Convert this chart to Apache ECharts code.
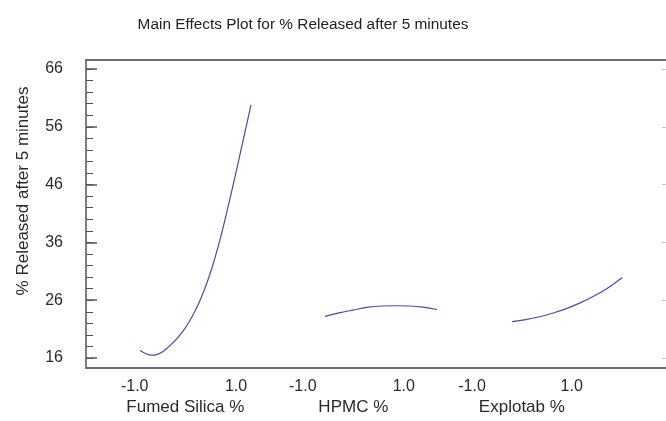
<!DOCTYPE html>
<html>
<head>
<meta charset="utf-8">
<script src="https://cdn.jsdelivr.net/npm/echarts@6/dist/echarts.min.js"></script>
<style>
html,body{margin:0;padding:0;background:#fff;}
#chart{width:666px;height:421px;}
</style>
</head>
<body>
<div id="chart"></div>
<script>
// ---- data ----
var titleText = 'Main Effects Plot for % Released after 5 minutes';
var yAxisName = '% Released after 5 minutes';
var factorNames = ['Fumed Silica %', 'HPMC %', 'Explotab %'];
var xTickValues = [-1, 1];
var yMajorTicks = [16, 26, 36, 46, 56, 66];
var yMinorTicks = [16, 18, 20, 22, 24, 26, 28, 30, 32, 34, 36, 38, 40, 42, 44, 46, 48, 50, 52, 54, 56, 58, 60, 62, 64, 66];

var fumedLevels = [-1, -0.9, -0.8, -0.7, -0.6, -0.5, -0.4, -0.3, -0.2, -0.1, 0, 0.1, 0.2, 0.3, 0.4, 0.5, 0.6, 0.7, 0.8, 0.9, 1];
var fumedValues = [17.3, 16.8, 16.5, 16.6, 17.05, 17.8, 18.7, 19.75, 21.0, 22.5, 24.3, 26.4, 28.85, 31.7, 35.0, 38.7, 42.7, 46.85, 51.15, 55.45, 59.8];

var hpmcLevels = [-1, -0.75, -0.5, -0.25, 0, 0.25, 0.5, 0.75, 1];
var hpmcValues = [23.2, 23.8, 24.3, 24.75, 25.0, 25.05, 25.0, 24.8, 24.4];

var explotabLevels = [-1, -0.75, -0.5, -0.25, 0, 0.25, 0.5, 0.75, 1];
var explotabValues = [22.3, 22.65, 23.15, 23.8, 24.6, 25.58, 26.76, 28.18, 29.9];

// ---- layout ----
var yMin = 14.28, yMax = 67.55;
var plotTop = 60, plotBottom = 53;
// pixel extents of each panel's curve (-1 .. 1)
var dataPanels = [[140, 251], [325, 437], [512, 622]];
// pixel positions of each panel's tick labels (-1.0 .. 1.0)
var labelPanels = [[134.7, 236], [302.8, 403.8], [472, 571.7]];
var W = 666;
var lineColor = '#4a4aae';
var font = 'Liberation Sans, Arial, sans-serif';

function zip(a, b) { return a.map(function (v, i) { return [v, b[i]]; }); }
var seriesData = [zip(fumedLevels, fumedValues), zip(hpmcLevels, hpmcValues), zip(explotabLevels, explotabValues)];

var grids = [], xAxes = [], yAxes = [], series = [];

// frame grid (index 0)
grids.push({ left: 86, right: 0, top: plotTop, bottom: plotBottom });
xAxes.push({ gridIndex: 0, type: 'value', min: 0, max: 1, position: 'bottom',
  axisLine: { show: true, lineStyle: { color: '#6e6e6e', width: 2 } },
  axisTick: { show: false }, axisLabel: { show: false }, splitLine: { show: false } });
xAxes.push({ gridIndex: 0, type: 'value', min: 0, max: 1, position: 'top',
  axisLine: { show: true, lineStyle: { color: '#6e6e6e', width: 2 } },
  axisTick: { show: false }, axisLabel: { show: false }, splitLine: { show: false } });
yAxes.push({
  gridIndex: 0, type: 'value', min: yMin, max: yMax, position: 'left',
  name: yAxisName, nameLocation: 'middle', nameGap: 54, nameRotate: 90,
  nameTextStyle: { fontFamily: font, fontSize: 17, color: '#2a2a2a', padding: [0, 0, 0, 46] },
  axisLine: { show: true, lineStyle: { color: '#555', width: 1.5 } },
  axisTick: { show: true, inside: true, length: 11, customValues: yMajorTicks, lineStyle: { color: '#555', width: 1.5 } },
  axisLabel: { show: true, margin: 23, customValues: yMajorTicks, fontFamily: font, fontSize: 16, color: '#2a2a2a' },
  splitLine: { show: false }
});
yAxes.push({
  gridIndex: 0, type: 'value', min: yMin, max: yMax, position: 'left', offset: 0,
  axisLine: { show: false },
  axisTick: { show: true, inside: true, length: 7, customValues: yMinorTicks, lineStyle: { color: '#555', width: 1 } },
  axisLabel: { show: false },
  splitLine: { show: false }
});
yAxes.push({
  gridIndex: 0, type: 'value', min: yMin, max: yMax, position: 'right',
  axisLine: { show: false },
  axisTick: { show: true, inside: true, length: 4, customValues: yMajorTicks, lineStyle: { color: '#c8c8c8', width: 1 } },
  axisLabel: { show: false },
  splitLine: { show: false }
});

// data panels
for (var i = 0; i < 3; i++) {
  var gi = grids.length;
  grids.push({ left: dataPanels[i][0], right: W - dataPanels[i][1], top: plotTop, bottom: plotBottom });
  xAxes.push({ gridIndex: gi, type: 'value', min: -1, max: 1, show: false });
  yAxes.push({ gridIndex: gi, type: 'value', min: yMin, max: yMax, show: false });
  series.push({
    type: 'line', xAxisIndex: xAxes.length - 1, yAxisIndex: yAxes.length - 1,
    data: seriesData[i], showSymbol: false, smooth: 0.4,
    lineStyle: { color: lineColor, width: 1.2 }, silent: true
  });
}

// label panels
for (var j = 0; j < 3; j++) {
  var gj = grids.length;
  grids.push({ left: labelPanels[j][0], right: W - labelPanels[j][1], top: plotTop, bottom: plotBottom });
  xAxes.push({
    gridIndex: gj, type: 'value', min: -1, max: 1, position: 'bottom',
    name: factorNames[j], nameLocation: 'middle', nameGap: 26,
    nameTextStyle: { fontFamily: font, fontSize: 17, color: '#2a2a2a' },
    axisLine: { show: false }, axisTick: { show: false }, splitLine: { show: false },
    axisLabel: {
      show: true, margin: 15, customValues: xTickValues, fontFamily: font, fontSize: 16, color: '#2a2a2a',
      formatter: function (v) { return v.toFixed(1); }
    }
  });
  yAxes.push({ gridIndex: gj, type: 'value', min: yMin, max: yMax, show: false });
}

var chart = echarts.init(document.getElementById('chart'), null, { renderer: 'canvas' });
chart.setOption({
  backgroundColor: '#fff',
  animation: false,
  title: {
    text: titleText, left: 298, top: 12, textAlign: 'center',
    textStyle: { fontFamily: font, fontSize: 15.4, fontWeight: 'normal', color: '#222' }
  },
  grid: grids,
  xAxis: xAxes,
  yAxis: yAxes,
  series: series
});
</script>
</body>
</html>
